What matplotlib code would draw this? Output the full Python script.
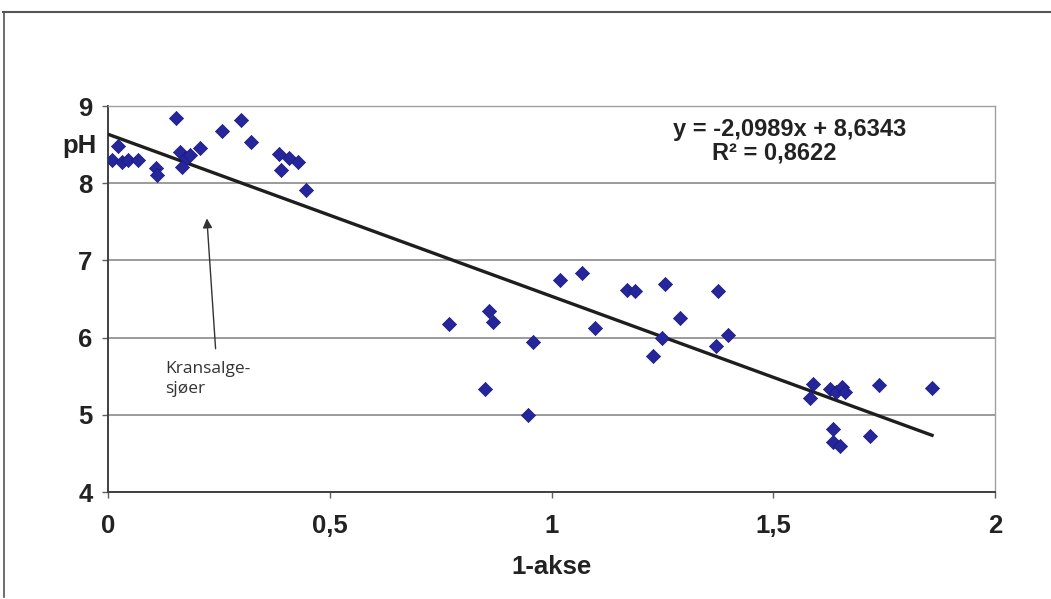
import matplotlib
matplotlib.use("Agg")
import matplotlib.pyplot as plt
from matplotlib.lines import Line2D
from matplotlib.ticker import FuncFormatter

plt.rcParams["font.family"] = ["Liberation Sans", "DejaVu Sans"]

# 1-akse (x) and pH (y) values
akse = [0.008, 0.023, 0.031, 0.044, 0.068, 0.108, 0.110, 0.153, 0.162, 0.176,
        0.166, 0.185, 0.207, 0.257, 0.301, 0.323, 0.386, 0.391, 0.409, 0.428,
        0.446,
        0.770, 0.860, 0.869, 0.959, 0.851, 0.946, 1.019, 1.068, 1.099, 1.171,
        1.189, 1.255, 1.290, 1.250, 1.228, 1.376, 1.398, 1.371,
        1.589, 1.583, 1.628, 1.641, 1.654, 1.662, 1.739, 1.858, 1.634, 1.635,
        1.650, 1.719]
ph = [8.30, 8.48, 8.27, 8.30, 8.30, 8.20, 8.11, 8.84, 8.40, 8.33,
      8.21, 8.36, 8.45, 8.67, 8.82, 8.54, 8.38, 8.17, 8.33, 8.28,
      7.91,
      6.18, 6.34, 6.20, 5.94, 5.34, 5.00, 6.75, 6.84, 6.13, 6.62,
      6.60, 6.70, 6.26, 5.99, 5.76, 6.60, 6.04, 5.89,
      5.40, 5.22, 5.33, 5.30, 5.36, 5.30, 5.39, 5.35, 4.82, 4.65,
      4.60, 4.73]

# trend line as printed on the chart
slope = -2.0989
intercept = 8.6343
r2 = 0.8622

x_ticks = [0, 0.5, 1, 1.5, 2]
y_ticks = [4, 5, 6, 7, 8, 9]

fig = plt.figure(figsize=(10.51, 5.99), dpi=100)
ax = fig.add_axes([108 / 1051, 1 - 492 / 599, 887 / 1051, 386 / 599])

# trend line from 0 to the largest x value
x0, x1 = 0, max(akse)
ax.plot([x0, x1], [intercept + slope * x0, intercept + slope * x1],
        color="#1e1e1e", linewidth=2.4, zorder=3)

ax.scatter(akse, ph, marker="D", s=52, color="#25259c", edgecolors="#1a1a80",
           linewidths=0.5, zorder=4)

ax.set_xlim(0, 2)
ax.set_ylim(4, 9)
ax.set_xticks(x_ticks)
ax.set_yticks(y_ticks)
fmt = FuncFormatter(lambda v, p: f"{v:g}".replace(".", ","))
ax.xaxis.set_major_formatter(fmt)
ax.yaxis.set_major_formatter(fmt)

ax.grid(axis="y", color="#8a8a8a", linewidth=1.2)
ax.set_axisbelow(True)
for side in ["top", "right"]:
    ax.spines[side].set_color("#a0a0a0")
    ax.spines[side].set_linewidth(1.0)
for side in ["left", "bottom"]:
    ax.spines[side].set_color("#404040")
    ax.spines[side].set_linewidth(1.4)

ax.tick_params(axis="both", direction="out", length=4, width=1,
               color="#606060", labelsize=18.5)
ax.tick_params(axis="x", pad=12)
ax.tick_params(axis="y", pad=7)
for lab in ax.get_xticklabels() + ax.get_yticklabels():
    lab.set_fontweight("bold")
    lab.set_color("#222222")

ax.set_xlabel("1-akse", fontsize=18.5, fontweight="bold", color="#222222",
              labelpad=12)
ax.text(-0.032, 0.896, "pH", transform=ax.transAxes, fontsize=18.5,
        fontweight="bold", color="#222222", ha="center", va="center")

ax.text(0.769, 0.938,
        f"y = {slope:.4f}x + {intercept:.4f}".replace(".", ","),
        transform=ax.transAxes, fontsize=17, fontweight="bold",
        color="#222222", ha="center", va="center")
ax.text(0.751, 0.878, f"R² = {r2:.4f}".replace(".", ","),
        transform=ax.transAxes, fontsize=17, fontweight="bold",
        color="#222222", ha="center", va="center")

# annotation for the charophyte lakes
ax.annotate("", xy=(0.2225, 7.58), xytext=(0.243, 5.82),
            arrowprops=dict(arrowstyle="-|>", color="#333333", lw=1.0,
                            mutation_scale=14))
ax.text(0.128, 5.70, "Kransalge-\nsjøer", fontsize=12.5, family="Open Sans",
        color="#333333", ha="left", va="top", linespacing=1.35)

# outer frame (top and left edges visible)
fig.add_artist(Line2D([3 / 1051, 1], [1 - 12 / 599, 1 - 12 / 599],
                      transform=fig.transFigure, color="#555555", lw=1.5))
fig.add_artist(Line2D([3.5 / 1051, 3.5 / 1051], [1 - 12 / 599, 2 / 599],
                      transform=fig.transFigure, color="#555555", lw=1.2))

fig.savefig("out.png", dpi=100)
